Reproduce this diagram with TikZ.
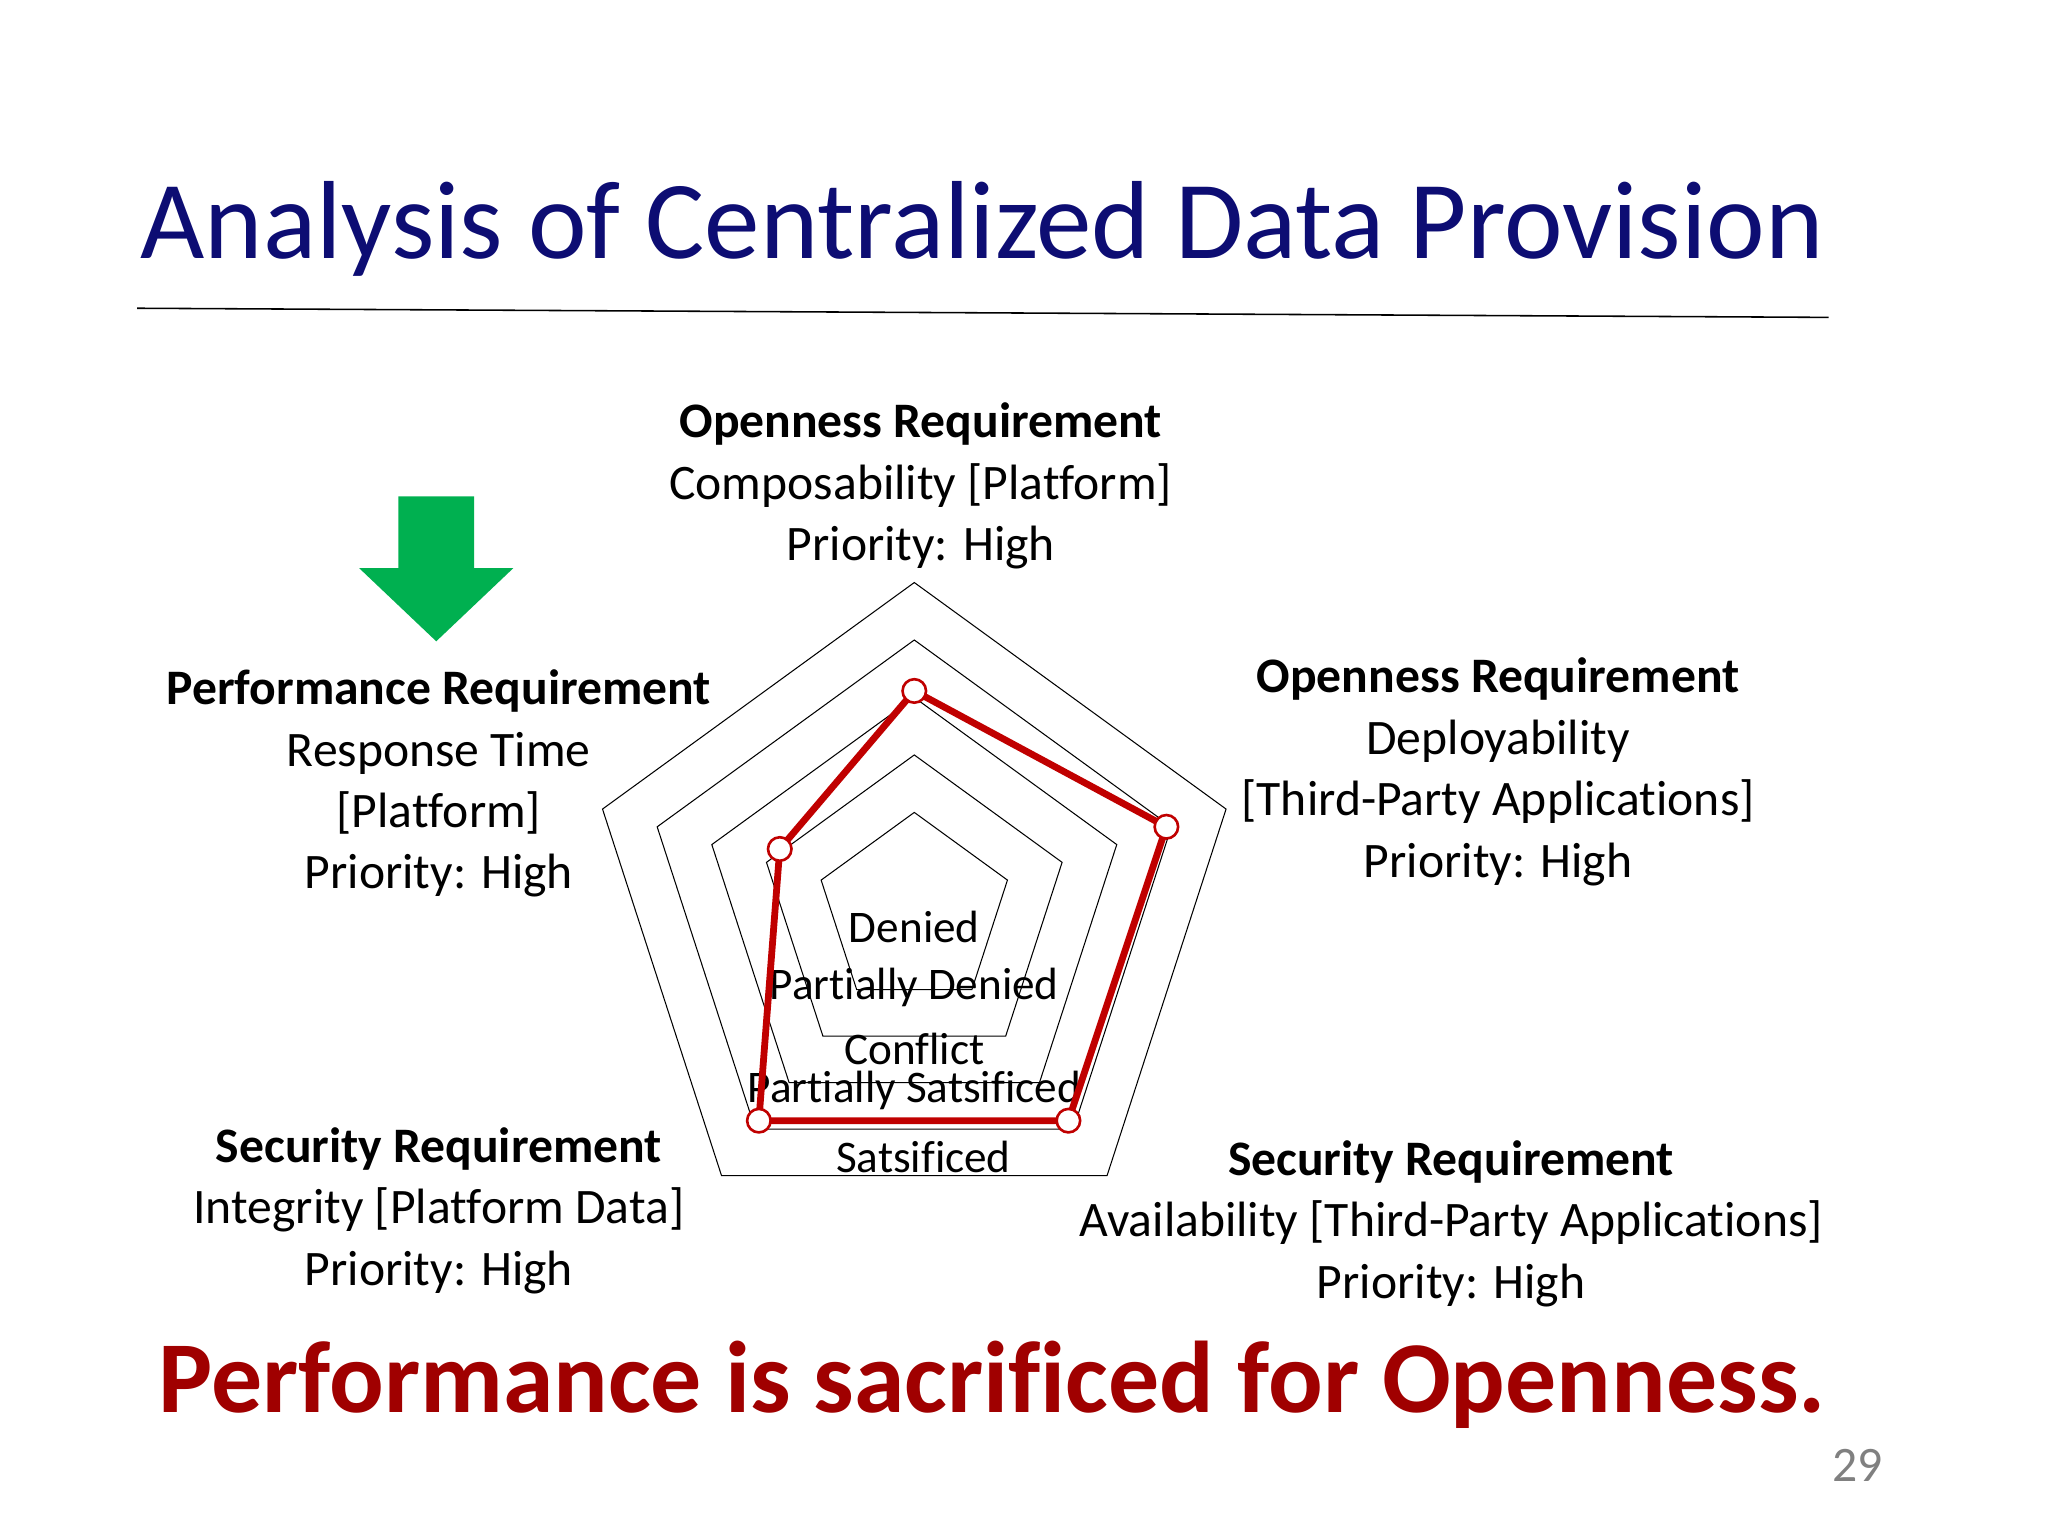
\documentclass[tikz,border=0pt]{standalone}
\usepackage{fontspec}
\setmainfont{Carlito}[Ligatures=NoCommon]
\usetikzlibrary{calc}
\definecolor{dred}{HTML}{A00000}
\definecolor{lred}{HTML}{C00000}
\definecolor{navy}{HTML}{0D0D73}
\definecolor{agreen}{HTML}{00B050}
\begin{document}
\begin{tikzpicture}[x=0.5pt,y=-0.5pt,
  lbl/.style={font=\fontsize{19}{23.5}\selectfont,align=center,inner sep=0pt},
  lvl/.style={font=\fontsize{17.3}{18}\selectfont,inner sep=0pt},
  pt/.style={circle,draw=lred,fill=white,line width=1pt,minimum size=9pt,inner sep=0pt}]
\useasboundingbox (0,0) rectangle (1568,1176);
\node[text=navy,font=\fontsize{42.5}{50}\selectfont,inner sep=0pt] (title) at (752,175) {Analysis of Centralized Data Provision};
\draw[line width=0.6pt] (105,236) -- (1400,243);
\coordinate (c) at (700,697);
\foreach \r in {75,119,163,207,251}{
  \draw[line width=0.4pt] ($(c)+(0,-\r)$) -- ($(c)+({-0.951*\r},{-0.309*\r})$) -- ($(c)+({-0.588*\r},{0.809*\r})$) -- ($(c)+({0.588*\r},{0.809*\r})$) -- ($(c)+({0.951*\r},{-0.309*\r})$) -- cycle;
}
\node[lvl] at (700,710) {Denied};
\node[lvl] at (700,756) {Partially Denied};
\node[lvl] at (700,803) {Conflict};
\node[lvl] at (700,835) {Partially Satsificed};
\node[lvl] at (707,886) {Satsificed};
\coordinate (p1) at (700,529);
\coordinate (p2) at (893,633);
\coordinate (p3) at (818,858);
\coordinate (p4) at (581,858);
\coordinate (p5) at (597,650);
\draw[lred,line width=2.6pt,line join=round] (p1) -- (p2) -- (p3) -- (p4) -- (p5) -- cycle;
\foreach \p in {p1,p2,p3,p4,p5} \node[pt] at (\p) {};
\node[lbl] (top) at (705,372) {\textbf{Openness Requirement}\\Composability [Platform]\\Priority: High};
\node[lbl] (right) at (1147,591) {\textbf{Openness Requirement}\\Deployability\\[0pt][Third-Party Applications]\\Priority: High};
\node[lbl] (left) at (336,600) {\textbf{Performance Requirement}\\Response Time\\[0pt][Platform]\\Priority: High};
\node[lbl] (bl) at (336,927) {\textbf{Security Requirement}\\Integrity [Platform Data]\\Priority: High};
\node[lbl] (br) at (1111,937) {\textbf{Security Requirement}\\Availability [Third-Party Applications]\\Priority: High};
\fill[agreen] (305,380) -- (363,380) -- (363,435) -- (393,435) -- (334,491) -- (275,435) -- (305,435) -- cycle;
\node[text=dred,font=\fontsize{39}{44}\selectfont\bfseries,inner sep=0pt] (concl) at (760,1060) {Performance is sacrificed for Openness.};
\node[text=gray,font=\fontsize{19}{22}\selectfont,inner sep=0pt] (num) at (1422,1122) {29};
\end{tikzpicture}
\end{document}
